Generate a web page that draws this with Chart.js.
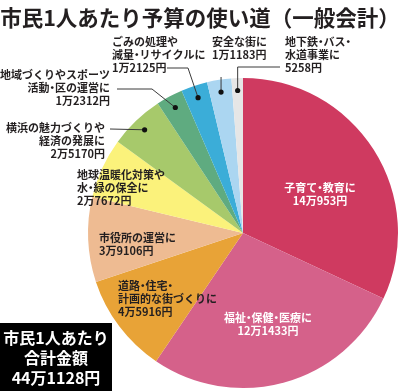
<!DOCTYPE html>
<html>
<head>
<meta charset="utf-8">
<script src="https://cdn.jsdelivr.net/npm/chart.js@4.4.1/dist/chart.umd.min.js"></script>
<style>
  html, body { margin: 0; padding: 0; background: #fff; }
  #wrap { position: relative; width: 400px; height: 391px; }
</style>
</head>
<body>
<div id="wrap"><canvas id="budgetChart" width="400" height="391"></canvas></div>
<script>
'use strict';

// Data :
var categories = [
  '子育て・教育に', '福祉・保健・医療に', '道路・住宅・計画的な街づくりに', '市役所の運営に',
  '地球温暖化対策や水・緑の保全に', '横浜の魅力づくりや経済の発展に', '地域づくりやスポーツ活動・区の運営に',
  'ごみの処理や減量・リサイクルに', '安全な街に', '地下鉄・バス・水道事業に'
];
var labelLines = [
  ['子育て・教育に'],
  ['福祉・保健・医療に'],
  ['道路・住宅・', '計画的な街づくりに'],
  ['市役所の運営に'],
  ['地球温暖化対策や', '水・緑の保全に'],
  ['横浜の魅力づくりや', '経済の発展に'],
  ['地域づくりやスポーツ', '活動・区の運営に'],
  ['ごみの処理や', '減量・リサイクルに'],
  ['安全な街に'],
  ['地下鉄・バス・', '水道事業に']
];
var values = [140953, 121433, 45916, 39106, 27672, 25170, 12312, 12125, 11183, 5258];
var colors = ['#cf3a60', '#d5618a', '#e8a337', '#eebb92', '#fbf27b', '#a7c96b', '#5fab80', '#3badd8', '#abd6f1', '#e6e6e6'];
var titleText = '市民1人あたり予算の使い道（一般会計）';
var totalLines = ['市民1人あたり', '合計金額'];

// label layout : x, y of first line, align, color, leader route (points before the dot)
var labelLayout = [
  { x: 320, y: 188, align: 'center', color: '#fff' },
  { x: 268, y: 318, align: 'center', color: '#fff' },
  { x: 118, y: 286, align: 'left', color: '#231f20' },
  { x: 99, y: 238, align: 'left', color: '#231f20' },
  { x: 77, y: 175, align: 'left', color: '#231f20' },
  { x: 105, y: 128, align: 'right', color: '#231f20', route: [[110, 129]] },
  { x: 110, y: 75, align: 'right', color: '#231f20', route: [[117, 89], [152, 89]] },
  { x: 112, y: 42, align: 'left', color: '#231f20', route: [[167, 68], [188, 68]] },
  { x: 212, y: 42, align: 'left', color: '#231f20', route: [['dot', 77]] },
  { x: 285, y: 42, align: 'left', color: '#231f20', route: [[280, 67], ['dot', 67]] }
];

var FONT = '"Noto Sans CJK JP", "Noto Sans", sans-serif';
var DOT_W = 5.5;

function yen(v) {
  var man = Math.floor(v / 10000);
  var rest = v % 10000;
  return (man > 0 ? man + '万' : '') + rest + '円';
}

// draws a text line with a narrow middle dot, like the printed labels
function drawLabelLine(ctx, text, x, y, align) {
  var parts = text.split('・');
  var w = 0;
  for (var i = 0; i < parts.length; i++) {
    w += ctx.measureText(parts[i]).width;
  }
  w += DOT_W * (parts.length - 1);
  var cx = x;
  if (align === 'center') {
    cx = x - w / 2;
  } else if (align === 'right') {
    cx = x - w;
  }
  for (var j = 0; j < parts.length; j++) {
    ctx.textAlign = 'left';
    ctx.fillText(parts[j], cx, y);
    cx += ctx.measureText(parts[j]).width;
    if (j < parts.length - 1) {
      ctx.textAlign = 'center';
      ctx.fillText('・', cx + DOT_W / 2, y);
      cx += DOT_W;
    }
  }
}

var labelPlugin = {
  id: 'budgetLabels',
  afterDraw: function (chart) {
    var ctx = chart.ctx;
    var meta = chart.getDatasetMeta(0);
    ctx.save();

    // title
    ctx.fillStyle = '#231f20';
    ctx.font = 'bold 21.5px ' + FONT;
    ctx.textAlign = 'center';
    ctx.textBaseline = 'middle';
    ctx.fillText(titleText, 200, 18);

    // slice labels and leaders
    for (var i = 0; i < values.length; i++) {
      var lay = labelLayout[i];
      var lines = labelLines[i].concat([yen(values[i])]);
      ctx.font = 'bold 11px ' + FONT;
      ctx.fillStyle = lay.color;
      ctx.textBaseline = 'middle';
      for (var j = 0; j < lines.length; j++) {
        drawLabelLine(ctx, lines[j], lay.x, lay.y + j * 13, lay.align);
      }

      if (lay.route) {
        var p = meta.data[i].getProps(['x', 'y', 'startAngle', 'endAngle', 'outerRadius'], true);
        var mid = (p.startAngle + p.endAngle) / 2;
        var dx = p.x + Math.cos(mid) * p.outerRadius * 0.92;
        var dy = p.y + Math.sin(mid) * p.outerRadius * 0.92;
        ctx.strokeStyle = '#3a3a3a';
        ctx.lineWidth = 1;
        ctx.beginPath();
        for (var k = 0; k < lay.route.length; k++) {
          var px = lay.route[k][0] === 'dot' ? dx : lay.route[k][0];
          if (k === 0) {
            ctx.moveTo(px, lay.route[k][1]);
          } else {
            ctx.lineTo(px, lay.route[k][1]);
          }
        }
        ctx.lineTo(dx, dy);
        ctx.stroke();
        ctx.fillStyle = '#111';
        ctx.beginPath();
        ctx.arc(dx, dy, 2.6, 0, Math.PI * 2);
        ctx.fill();
      }
    }

    // total box
    var total = 0;
    for (var t = 0; t < values.length; t++) {
      total += values[t];
    }
    ctx.fillStyle = '#000';
    ctx.fillRect(0, 323, 112, 68);
    ctx.fillStyle = '#fff';
    ctx.font = 'bold 16px ' + FONT;
    ctx.textAlign = 'center';
    ctx.fillText(totalLines[0], 56, 338);
    ctx.fillText(totalLines[1], 56, 358);
    ctx.fillText(yen(total), 56, 378);

    ctx.restore();
  }
};

var ctx = document.getElementById('budgetChart').getContext('2d');
var budgetChart = new Chart(ctx, { //eslint-disable-line
  type: 'pie',
  data: {
    labels: categories,
    datasets: [{
      data: values,
      backgroundColor: colors,
      borderWidth: 0
    }]
  },
  options: {
    responsive: false,
    animation: false,
    layout: {
      padding: { left: 88, right: 2, top: 78, bottom: 3 }
    },
    plugins: {
      legend: { display: false },
      tooltip: { enabled: false }
    }
  },
  plugins: [labelPlugin]
});
</script>
</body>
</html>
